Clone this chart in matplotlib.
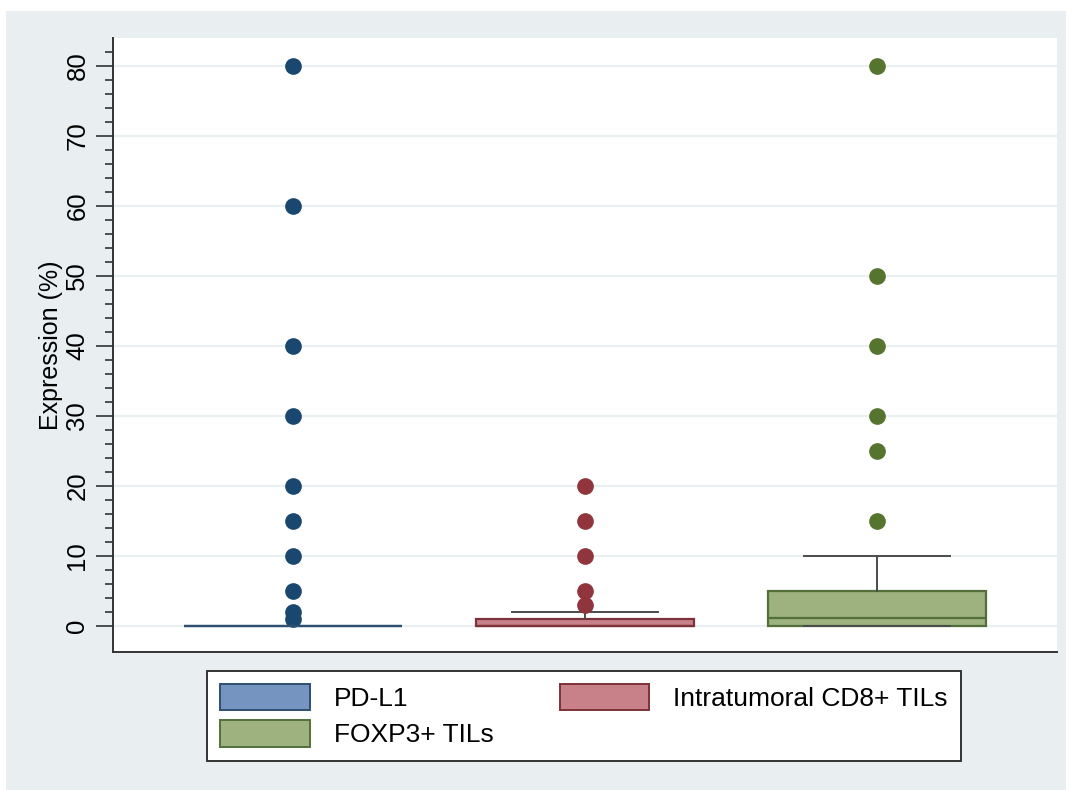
import matplotlib.pyplot as plt
from matplotlib.patches import Patch, Rectangle
from matplotlib.ticker import FixedLocator

plt.rcParams['font.family'] = ['Liberation Sans', 'DejaVu Sans']

# expression (%) by marker
labels = ["PD-L1", "Intratumoral CD8+ TILs", "FOXP3+ TILs"]
q1 = [0, 0, 0]
med = [0, 0, 1.2]
q3 = [0, 1, 5]
whislo = [0, 0, 0]
whishi = [0, 2, 10]
fliers = [
    [80, 60, 40, 30, 20, 15, 10, 5, 2, 1],
    [20, 15, 10, 5, 3],
    [80, 50, 40, 30, 25, 15],
]

dark = ["#1a476f", "#90353b", "#55752f"]
fill = ["#7594bf", "#c98189", "#9db27e"]
edge = ["#2e4f72", "#7d3139", "#53703a"]

fig = plt.figure(figsize=(10.73, 7.9), dpi=100)
fig.patch.set_facecolor("white")
bg = Rectangle((6 / 1073, 0), 1060 / 1073, 779 / 790,
               transform=fig.transFigure, facecolor="#e9eff1",
               edgecolor="none", zorder=-10)
fig.add_artist(bg)

ax = fig.add_axes([113 / 1073, 1 - 652 / 790, 944 / 1073, 614 / 790])
ax.set_facecolor("white")

for i in range(3):
    stats = [dict(q1=q1[i], med=med[i], q3=q3[i], whislo=whislo[i],
                  whishi=whishi[i], fliers=fliers[i], label=labels[i])]
    ax.bxp(stats, positions=[i + 1], widths=0.745, capwidths=0.5,
           patch_artist=True, showfliers=True,
           boxprops=dict(facecolor=fill[i], edgecolor=edge[i], linewidth=1.6),
           medianprops=dict(color=edge[i], linewidth=1.6),
           whiskerprops=dict(color="#4b4b4b", linewidth=1.4),
           capprops=dict(color="#4b4b4b", linewidth=1.4),
           flierprops=dict(marker="o", markersize=11, markerfacecolor=dark[i],
                           markeredgecolor=dark[i], linestyle="none"))

ax.set_xlim(0.384, 3.616)
ax.set_ylim(-3.71, 84)
ax.set_xticks([])
ax.set_yticks(range(0, 81, 10))
ax.yaxis.set_minor_locator(FixedLocator(range(0, 83, 2)))
ax.tick_params(axis="y", which="major", length=12, width=1.2, pad=5,
               labelsize=18.5, labelrotation=90, color="#333333")
ax.tick_params(axis="y", which="minor", length=6, width=1.2, color="#333333")
for t in ax.get_yticklabels():
    t.set_va("center")
ax.grid(axis="y", which="major", color="#eaf0f1", linewidth=1.6, zorder=0)
ax.set_axisbelow(True)

for s in ["top", "right"]:
    ax.spines[s].set_visible(False)
for s in ["left", "bottom"]:
    ax.spines[s].set_color("#333333")
    ax.spines[s].set_linewidth(1.4)

ax.set_ylabel("Expression (%)", fontsize=18, labelpad=2)

handles = [Patch(facecolor=fill[0], edgecolor=edge[0], linewidth=1.4, label=labels[0]),
           Patch(facecolor=fill[2], edgecolor=edge[2], linewidth=1.4, label=labels[2]),
           Patch(facecolor=fill[1], edgecolor=edge[1], linewidth=1.4, label=labels[1])]
leg = fig.legend(handles=handles, ncol=2, loc="upper center",
                 bbox_to_anchor=(584 / 1073, 1 - 671 / 790), fontsize=19,
                 frameon=True, fancybox=False, framealpha=1,
                 handlelength=3.4, handleheight=1.15, handletextpad=0.9,
                 columnspacing=2.5, labelspacing=0.35, borderpad=0.5,
                 borderaxespad=0)
leg.get_frame().set_edgecolor("#333333")
leg.get_frame().set_linewidth(1.4)

fig.savefig("out.png", dpi=100)
